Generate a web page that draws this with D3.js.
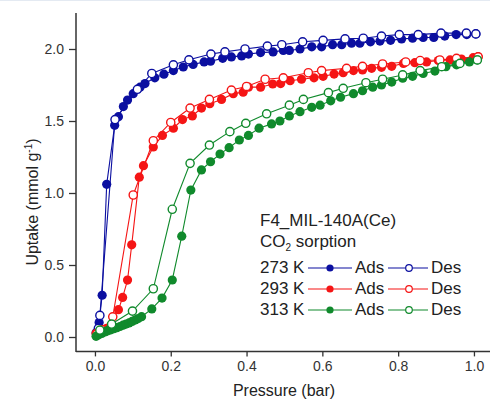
<!DOCTYPE html>
<html><head><meta charset="utf-8">
<script src="https://cdn.jsdelivr.net/npm/d3@7"></script>
<style>body{margin:0;background:#fff}svg{display:block}text{font-family:"Liberation Sans",Arial,sans-serif}</style>
</head><body><svg id="c" width="490" height="401"></svg>
<script>
const xTicks=[0.0,0.2,0.4,0.6,0.8,1.0];
const yTicks=[0.0,0.5,1.0,1.5,2.0];
const seriesNames=["273 K","293 K","313 K"];
const colors=["#0b0fa0","#f51515","#108a2c"];

const ads273=[[0.003,0.03],[0.011,0.10],[0.019,0.29],[0.031,1.06],[0.052,1.47],[0.062,1.53],[0.075,1.60],[0.086,1.645],[0.101,1.69],[0.119,1.735],[0.132,1.76],[0.158,1.80],[0.182,1.825],[0.207,1.85],[0.233,1.875],[0.259,1.893],[0.288,1.91],[0.305,1.915],[0.337,1.935],[0.36,1.945],[0.387,1.952],[0.405,1.965],[0.437,1.975],[0.47,1.98],[0.497,1.99],[0.513,1.99],[0.541,2.0],[0.572,2.015],[0.598,2.015],[0.627,2.03],[0.651,2.03],[0.677,2.04],[0.699,2.04],[0.727,2.05],[0.752,2.055],[0.78,2.06],[0.809,2.07],[0.838,2.075],[0.866,2.08],[0.894,2.08],[0.923,2.09],[0.953,2.10],[0.981,2.10],[1.005,2.105]];
const des273=[[1.005,2.105],[0.98,2.11],[0.913,2.11],[0.853,2.10],[0.803,2.10],[0.756,2.09],[0.708,2.075],[0.66,2.07],[0.602,2.06],[0.548,2.05],[0.493,2.03],[0.455,2.02],[0.396,2.0],[0.343,1.98],[0.306,1.965],[0.248,1.925],[0.207,1.89],[0.15,1.83],[0.112,1.72],[0.053,1.51],[0.013,0.15],[0.009,0.06]];
const ads293=[[0.003,0.025],[0.031,0.06],[0.062,0.19],[0.073,0.275],[0.086,0.395],[0.097,0.64],[0.117,1.11],[0.128,1.19],[0.154,1.32],[0.178,1.40],[0.207,1.45],[0.231,1.51],[0.257,1.535],[0.281,1.59],[0.303,1.62],[0.334,1.65],[0.365,1.69],[0.391,1.70],[0.405,1.735],[0.437,1.735],[0.469,1.757],[0.49,1.76],[0.515,1.78],[0.545,1.79],[0.578,1.80],[0.602,1.81],[0.631,1.826],[0.655,1.835],[0.682,1.85],[0.706,1.854],[0.73,1.866],[0.756,1.873],[0.783,1.88],[0.814,1.90],[0.844,1.905],[0.875,1.91],[0.906,1.92],[0.937,1.924],[0.967,1.93],[0.998,1.94],[1.011,1.946]];
const des293=[[1.011,1.946],[0.954,1.935],[0.91,1.924],[0.858,1.92],[0.82,1.91],[0.759,1.896],[0.706,1.88],[0.664,1.866],[0.598,1.85],[0.563,1.835],[0.497,1.80],[0.449,1.79],[0.40,1.74],[0.36,1.715],[0.302,1.65],[0.251,1.59],[0.20,1.49],[0.154,1.363],[0.101,0.986],[0.047,0.14],[0.02,0.05],[0.005,0.02]];
const ads313=[[0.003,0.005],[0.01,0.015],[0.018,0.025],[0.026,0.035],[0.034,0.043],[0.042,0.05],[0.05,0.058],[0.058,0.065],[0.066,0.073],[0.074,0.082],[0.082,0.09],[0.09,0.098],[0.098,0.108],[0.106,0.118],[0.114,0.128],[0.123,0.141],[0.15,0.195],[0.177,0.27],[0.204,0.396],[0.229,0.70],[0.253,1.02],[0.281,1.16],[0.305,1.217],[0.33,1.27],[0.354,1.315],[0.381,1.368],[0.405,1.40],[0.433,1.45],[0.466,1.48],[0.488,1.50],[0.513,1.535],[0.541,1.565],[0.572,1.595],[0.594,1.61],[0.622,1.64],[0.648,1.665],[0.682,1.69],[0.706,1.71],[0.733,1.735],[0.756,1.75],[0.783,1.77],[0.812,1.797],[0.838,1.81],[0.866,1.83],[0.897,1.847],[0.926,1.877],[0.954,1.89],[0.988,1.91],[1.009,1.924]];
const des313=[[1.009,1.924],[0.963,1.90],[0.915,1.877],[0.858,1.85],[0.812,1.82],[0.759,1.79],[0.715,1.766],[0.655,1.727],[0.616,1.697],[0.55,1.65],[0.513,1.61],[0.453,1.55],[0.398,1.484],[0.356,1.426],[0.302,1.333],[0.251,1.206],[0.204,0.887],[0.154,0.335],[0.099,0.18],[0.044,0.09],[0.013,0.048]];

const adsData=[ads273,ads293,ads313];
const desData=[des273,des293,des313];

const svg=d3.select("#c");
const x=d3.scaleLinear().domain([-0.05,1.05]).range([76,76+379*1.1]);
const y=d3.scaleLinear().domain([-0.1,2.25]).range([351.4,13]);

svg.append("line").attr("x1",0).attr("x2",490).attr("y1",0.5).attr("y2",0.5).attr("stroke","#e4eaf2");

const line=d3.line().x(d=>x(d[0])).y(d=>y(d[1]));
const g=svg.append("g");
for(let i=0;i<3;i++){
  const c=colors[i];
  g.append("path").datum(adsData[i]).attr("d",line).attr("fill","none").attr("stroke",c).attr("stroke-width",1.1);
  g.append("path").datum(desData[i]).attr("d",line).attr("fill","none").attr("stroke",c).attr("stroke-width",1.1);
  g.selectAll(null).data(adsData[i]).join("circle").attr("cx",d=>x(d[0])).attr("cy",d=>y(d[1])).attr("r",4.6).attr("fill",c);
  g.selectAll(null).data(desData[i]).join("circle").attr("cx",d=>x(d[0])).attr("cy",d=>y(d[1])).attr("r",4.1).attr("fill","#fff").attr("stroke",c).attr("stroke-width",1.4);
}

const axCol="#333";
// x axis
const xa=svg.append("g").attr("transform","translate(0,351.4)");
xa.call(d3.axisBottom(x).tickValues(d3.range(0,1.05,0.1)).tickSize(3).tickFormat(""));
xa.call(d3.axisBottom(x).tickValues(xTicks).tickSize(5).tickPadding(5).tickFormat(d3.format(".1f")));
xa.selectAll(".domain").remove();
xa.selectAll("line").attr("stroke",axCol).attr("stroke-width",1.3);
xa.selectAll("text").attr("font-size",14).attr("fill","#333").attr("font-family","Liberation Sans, Arial, sans-serif");
svg.append("line").attr("x1",76).attr("x2",490).attr("y1",351.4).attr("y2",351.4).attr("stroke",axCol).attr("stroke-width",1.5);
// y axis
const ya=svg.append("g").attr("transform","translate(76,0)");
ya.call(d3.axisLeft(y).tickValues([0,0.25,0.5,0.75,1,1.25,1.5,1.75,2,2.25]).tickSize(3).tickFormat(""));
ya.call(d3.axisLeft(y).tickValues(yTicks).tickSize(7).tickPadding(5).tickFormat(d3.format(".1f")));
ya.selectAll(".domain").remove();
ya.selectAll("line").attr("stroke",axCol).attr("stroke-width",1.3);
ya.selectAll("text").attr("font-size",14).attr("fill","#333").attr("font-family","Liberation Sans, Arial, sans-serif");
svg.append("line").attr("x1",76).attr("x2",76).attr("y1",13).attr("y2",352.1).attr("stroke",axCol).attr("stroke-width",1.5);

svg.append("text").attr("x",284).attr("y",396).attr("text-anchor","middle").attr("font-size",16).attr("fill","#222").text("Pressure (bar)");
const yt=svg.append("text").attr("transform","translate(38,202) rotate(-90)").attr("text-anchor","middle").attr("font-size",16).attr("fill","#222");
yt.append("tspan").text("Uptake (mmol g");
yt.append("tspan").attr("font-size",10).attr("dy",-6).text("-1");
yt.append("tspan").attr("dy",6).text(")");

// legend
const lg=svg.append("g");
lg.append("text").attr("x",260).attr("y",226).attr("font-size",17).attr("fill","#222").text("F4_MIL-140A(Ce)");
const t2=lg.append("text").attr("x",260).attr("y",247).attr("font-size",17).attr("fill","#222");
t2.append("tspan").text("CO");
t2.append("tspan").attr("font-size",10).attr("dy",4).text("2");
t2.append("tspan").attr("dy",-4).text(" sorption");
seriesNames.forEach((n,i)=>{
  const yy=273+i*21, c=colors[i];
  lg.append("text").attr("x",260).attr("y",yy).attr("font-size",17).attr("fill","#222").text(n);
  lg.append("line").attr("x1",308).attr("x2",352).attr("y1",yy-5).attr("y2",yy-5).attr("stroke",c).attr("stroke-width",1.1);
  lg.append("circle").attr("cx",330).attr("cy",yy-5).attr("r",3.6).attr("fill",c);
  lg.append("text").attr("x",355).attr("y",yy).attr("font-size",17).attr("fill","#222").text("Ads");
  lg.append("line").attr("x1",388).attr("x2",428).attr("y1",yy-5).attr("y2",yy-5).attr("stroke",c).attr("stroke-width",1.1);
  lg.append("circle").attr("cx",409).attr("cy",yy-5).attr("r",3.3).attr("fill","#fff").attr("stroke",c).attr("stroke-width",1.2);
  lg.append("text").attr("x",431).attr("y",yy).attr("font-size",17).attr("fill","#222").text("Des");
});
</script></body></html>
